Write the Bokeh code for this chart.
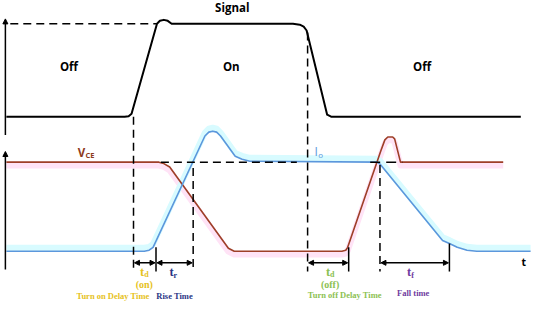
from bokeh.plotting import figure
from bokeh.models import Range1d, Arrow, NormalHead
from bokeh.core.properties import value
from bokeh.embed import file_html
from bokeh.resources import INLINE

# ---- data (time axis / level, in drawing units) ----
signal_t = [9, 130, 134, 137, 163, 166, 170, 174, 178, 302, 309, 313, 316, 337, 341, 535]
signal_v = [123, 123, 122.5, 120, 27, 24, 23, 24, 27, 27, 28, 30, 34, 121, 123, 123]

vce_t = [9, 165, 170, 176, 236, 242, 352, 356, 358, 392, 396, 399, 404, 406, 412, 517]
vce_v = [170, 170, 171.5, 175, 259, 262, 262, 261, 258, 158, 147, 144, 144, 146, 170, 170]

io_t = [9, 150, 155, 159, 212, 216, 220, 224, 228, 243, 250, 258, 388, 391, 455, 462, 470, 480, 490, 545]
io_v = [262, 262, 261, 258, 143, 139, 138, 139, 143, 164, 167, 169, 170, 172, 251, 254, 258, 261, 262, 262]

event_t = [139, 162, 200, 317, 359, 391, 462]
state_labels = ["Off", "On", "Off"]
interval_labels = ["Turn on Delay Time", "Rise Time", "Turn off Delay Time", "Fall time"]

RED = "#9e3f28"
BLUE = "#5b97dc"
PINK = "#ffe3f6"
CYAN = "#d8fbff"

p = figure(width=534, height=302, x_range=Range1d(3, 549), y_range=Range1d(315, 3),
           output_backend="svg", toolbar_location=None, min_border=0)
p.axis.visible = False
p.grid.visible = False
p.outline_line_color = None
p.background_fill_color = "white"

# axes (vertical arrows)
for y0, y1 in [(142, 22), (281, 159)]:
    p.add_layout(Arrow(end=NormalHead(size=5, fill_color="black", line_color="black"),
                       x_start=8, y_start=y0, x_end=8, y_end=y1, line_width=1.5, line_color="black"))

# halos (pink below V_CE, cyan above I_o)
p.line(vce_t, [v + 3.5 for v in vce_v], line_color=PINK, line_width=6, line_join="round")
p.line(io_t, [v - 3.5 for v in io_v], line_color=CYAN, line_width=6, line_join="round")

# reference dashed levels
p.line([13, 163], [27, 27], line_color="black", line_width=1.5, line_dash="8 5")

# waveforms
p.line(signal_t, signal_v, line_color="black", line_width=2, line_join="round")
p.line(vce_t, vce_v, line_color=RED, line_width=1.6, line_join="round")
p.line(io_t, io_v, line_color=BLUE, line_width=1.6, line_join="round")

p.line([167, 306], [170, 170], line_color="black", line_width=1.5, line_dash="8 5")
p.line([381, 414], [170, 170], line_color="black", line_width=1.5, line_dash="10 6")

# event markers
t0, t1, t2, t3, t4, t5, t6 = event_t
p.line([t0, t0], [123, 283], line_color="black", line_width=1.5, line_dash="8 5")
p.line([t3, t3], [36, 283], line_color="black", line_width=1.5, line_dash="8 5")
p.line([t2, t2], [176, 283], line_color="black", line_width=1.5, line_dash="8 5")
p.line([t5, t5], [173, 283], line_color="black", line_width=1.5, line_dash="8 5")
for t, y0 in [(t1, 258), (t4, 258), (t6, 254)]:
    p.line([t, t], [y0, 283], line_color="black", line_width=1.5)

for a, b in [(t0, t1), (t1, t2), (t3, t4), (t5, t6)]:
    p.add_layout(Arrow(start=NormalHead(size=5, fill_color="black", line_color="black"),
                       end=NormalHead(size=5, fill_color="black", line_color="black"),
                       x_start=a + 1, y_start=274, x_end=b - 1, y_end=274,
                       line_width=1.5, line_color="black"))

# titles / state labels
p.text(x=[240], y=[10], text=["Signal"], text_font=value("Open Sans"), text_font_style="bold",
       text_font_size="11.5px", text_align="center", text_baseline="middle", text_color="black")
p.text(x=[73, 239, 434], y=[71, 71, 71], text=state_labels, text_font=value("Open Sans"),
       text_font_style="bold", text_font_size="11.5px", text_align="center", text_baseline="middle",
       text_color="black")

# signal names
p.text(x=[82], y=[160], text=["V"], text_font=value("Open Sans"), text_font_style="bold",
       text_font_size="11.5px", text_align="left", text_baseline="middle", text_color="#8e3b1c")
p.text(x=[90], y=[162.5], text=["CE"], text_font=value("Open Sans"), text_font_style="bold",
       text_font_size="7.5px", text_align="left", text_baseline="middle", text_color="#8e3b1c")
p.text(x=[324], y=[159], text=["I"], text_font=value("Open Sans"),
       text_font_size="12px", text_align="left", text_baseline="middle", text_color=BLUE)
p.text(x=[328], y=[162], text=["o"], text_font=value("Open Sans"),
       text_font_size="8px", text_align="left", text_baseline="middle", text_color=BLUE)

p.text(x=[538], y=[273], text=["t"], text_font=value("Open Sans"), text_font_style="bold",
       text_font_size="10.5px", text_align="center", text_baseline="middle", text_color="black")

# interval symbols
GOLD, NAVY, GREEN, PURPLE = "#e6c21c", "#2b3585", "#8cc152", "#6f3da0"
serif = value("Liberation Serif")
def sym(x, y, main, sub, color):
    p.text(x=[x], y=[y], text=[main], text_font=serif, text_font_style="bold",
           text_font_size="12.5px", text_align="right", text_baseline="middle", text_color=color)
    p.text(x=[x], y=[y + 3], text=[sub], text_font=serif, text_font_style="bold",
           text_font_size="8px", text_align="left", text_baseline="middle", text_color=color)

sym(150, 283, "t", "d", GOLD)
sym(180, 284, "t", "r", NAVY)
sym(340, 283, "t", "d", GREEN)
sym(423, 284, "t", "f", PURPLE)
p.text(x=[150, 340], y=[296, 296], text=["(on)", "(off)"], text_font=serif, text_font_style="bold",
       text_font_size="10px", text_align="center", text_baseline="middle", text_color=[GOLD, GREEN])

p.text(x=[118, 181, 355, 425], y=[308, 308, 307, 305], text=interval_labels, text_font=serif,
       text_font_style="bold", text_font_size="8.5px", text_align="center", text_baseline="middle",
       text_color=[GOLD, NAVY, GREEN, PURPLE])

open("out.html", "w").write(file_html(p, INLINE))
